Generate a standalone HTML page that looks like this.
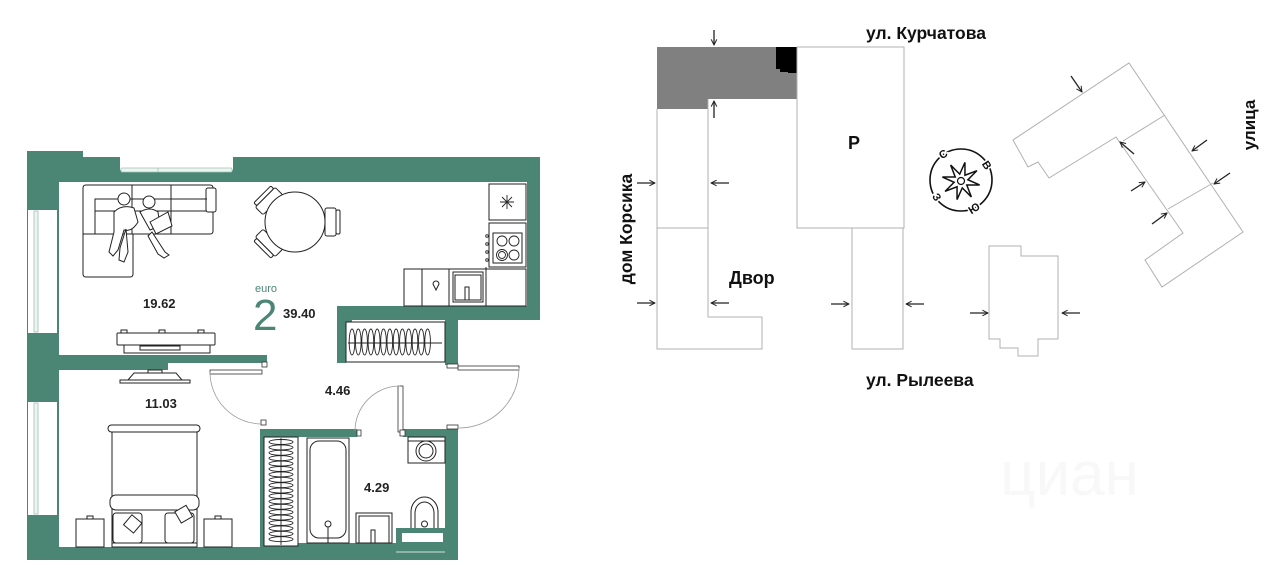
<!DOCTYPE html>
<html><head><meta charset="utf-8"><style>
html,body{margin:0;padding:0;background:#fff;width:1280px;height:570px;overflow:hidden}
svg{display:block}
text{font-family:"Liberation Sans","DejaVu Sans",sans-serif}
</style></head><body>
<svg width="1280" height="570" viewBox="0 0 1280 570" xmlns="http://www.w3.org/2000/svg">
<defs>
<marker id="ah" viewBox="0 0 10 10" refX="9" refY="5" markerWidth="7" markerHeight="7" orient="auto" markerUnits="userSpaceOnUse">
<path d="M1,1 L9,5 L1,9" fill="none" stroke="#222" stroke-width="1.4"/>
</marker>
</defs>
<rect width="1280" height="570" fill="#fff"/>

<!-- ============ FLOOR PLAN WALLS ============ -->
<g fill="#4b8674">
 <rect x="27" y="151" width="56" height="31"/>
 <rect x="83" y="157" width="457" height="25"/>
 <rect x="27" y="151" width="32" height="409"/>
 <rect x="527" y="157" width="13" height="163"/>
 <rect x="337" y="306" width="203" height="14"/>
 <rect x="337" y="306" width="9" height="57"/>
 <rect x="445" y="306" width="13" height="59"/>
 <rect x="59" y="355" width="109" height="15"/>
 <rect x="168" y="355" width="99" height="8"/>
 <rect x="260" y="429" width="97" height="8"/>
 <rect x="403" y="429" width="55" height="8"/>
 <rect x="445" y="429" width="13" height="131"/>
 <rect x="260" y="429" width="4" height="118"/>
 <rect x="27" y="547" width="431" height="13"/>
 <rect x="260" y="543" width="198" height="5"/>
 <rect x="346" y="320" width="6" height="6"/>
</g>
<!-- windows -->
<rect x="120" y="157" width="113" height="13" fill="#fff"/>
<rect x="121" y="168" width="111" height="4" fill="#eef4f1" stroke="#9fc2b5" stroke-width="0.8" rx="1"/>
<line x1="158" y1="168" x2="158" y2="172" stroke="#9fc2b5" stroke-width="0.8"/>
<rect x="28" y="210" width="29" height="123" fill="#fff"/>
<rect x="34" y="211" width="4" height="121" fill="#eef4f1" stroke="#9fc2b5" stroke-width="0.8"/>
<rect x="28" y="402" width="29" height="113" fill="#fff"/>
<rect x="34" y="403" width="4" height="111" fill="#eef4f1" stroke="#9fc2b5" stroke-width="0.8"/>
<line x1="396" y1="552" x2="445" y2="552" stroke="#cfe1da" stroke-width="1"/>

<!-- ============ FURNITURE ============ -->
<g fill="#fff" stroke="#222" stroke-width="1">
 <!-- sofa -->
 <path d="M83,188 Q83,185 86,185 H210 Q213,185 213,188 V231 Q213,234 210,234 H133 V274 Q133,277 130,277 H86 Q83,277 83,274 Z"/>
 <rect x="206" y="188" width="10" height="24" rx="2"/>
 <path d="M95,234 V199 H207 M95,211 H207 M132,185 V234 M171,185 V234 M83,234 H133" fill="none"/>
 <!-- people -->
 <circle cx="124" cy="199" r="6"/>
 <circle cx="149" cy="202" r="6"/>
 <path d="M114,212 Q122,204 134,208 L138,222 Q132,232 124,230 L118,250 L113,256 L109,252 L114,232 Z"/>
 <path d="M126,229 L128,252 L124,262 L119,260 L120,248 Z"/>
 <path d="M140,212 Q150,206 158,212 L160,226 L150,230 Z"/>
 <path d="M150,222 L168,212 L172,226 L156,234 Z"/>
 <path d="M152,232 L165,252 L169,255 L164,258 L158,254 L148,236 Z"/>
 <!-- dining chairs -->
 <g transform="translate(332,222)"><rect x="-7" y="-14" width="11" height="28" rx="2"/><rect x="4" y="-12" width="4" height="24" rx="1.5"/></g>
 <g transform="translate(268,200) rotate(225)"><rect x="-7" y="-14" width="11" height="28" rx="2"/><rect x="4" y="-12" width="4" height="24" rx="1.5"/></g>
 <g transform="translate(268,244) rotate(135)"><rect x="-7" y="-14" width="11" height="28" rx="2"/><rect x="4" y="-12" width="4" height="24" rx="1.5"/></g>
 <circle cx="295" cy="222" r="30"/>
 <!-- living TV -->
 <rect x="121" y="330" width="6" height="3"/><rect x="159" y="330" width="6" height="3"/><rect x="198" y="330" width="6" height="3"/>
 <rect x="117" y="333" width="98" height="12" rx="1"/>
 <rect x="124" y="345" width="86" height="8"/>
 <rect x="140" y="346" width="40" height="4"/>
 <!-- bedroom TV -->
 <path d="M128,380 L134,373 H176 L182,380 Z"/>
 <rect x="120" y="380" width="70" height="3"/>
 <rect x="148" y="370" width="14" height="3"/>
 <!-- bed -->
 <rect x="112" y="432" width="85" height="115"/>
 <rect x="108" y="425" width="92" height="7" rx="3.5"/>
 <rect x="110" y="495" width="89" height="15" rx="6"/>
 <rect x="113" y="513" width="29" height="30" rx="3"/>
 <rect x="165" y="513" width="29" height="30" rx="3"/>
 <rect x="126" y="517" width="13" height="13" transform="rotate(40 132 524)"/>
 <rect x="177" y="508" width="13" height="13" transform="rotate(-30 183 514)"/>
 <line x1="112" y1="543" x2="197" y2="543"/>
 <rect x="76" y="519" width="28" height="28"/>
 <rect x="87" y="516" width="6" height="3"/>
 <rect x="204" y="519" width="28" height="28"/>
 <rect x="215" y="516" width="6" height="3"/>
 <!-- kitchen -->
 <rect x="489" y="184" width="37" height="36"/>
 <rect x="489" y="223" width="37" height="44"/>
 <rect x="493" y="233" width="29" height="30"/>
 <rect x="404" y="269" width="122" height="37"/>
 <path d="M422,269 V306 M449,269 V306 M486,267 V306" fill="none"/>
 <rect x="453" y="272" width="30" height="30"/>
 <rect x="455" y="275" width="26" height="25"/>
 <rect x="465" y="287" width="4" height="13"/>
 <path d="M433,284 a3,3 0 1 1 6,0 l-3,6 z"/>
 <!-- horizontal wardrobe -->
 <rect x="346" y="322" width="99" height="40"/>
 <!-- vertical wardrobe -->
 <rect x="264" y="437" width="34" height="109"/>
 <!-- bathtub -->
 <rect x="307" y="438" width="42" height="105"/>
 <rect x="310" y="441" width="36" height="97" rx="9"/>
 <line x1="328" y1="526" x2="328" y2="543"/>
 <circle cx="328" cy="524" r="3"/>
 <!-- sink -->
 <rect x="356" y="513" width="36" height="30"/>
 <rect x="359" y="516" width="30" height="27"/>
 <rect x="371" y="530" width="4" height="13"/>
 <!-- washing machine -->
 <rect x="408" y="437" width="37" height="26"/>
 <line x1="408" y1="441" x2="445" y2="441"/>
 <circle cx="426" cy="451" r="10"/>
 <circle cx="426" cy="451" r="7"/>
 <!-- toilet -->
 <path d="M411,528 V512 A13.5,15 0 0 1 438,512 V528"/>
 <path d="M415,528 V513 A9.5,11 0 0 1 434,513 V528" fill="none"/>
 <circle cx="424.5" cy="524" r="3"/>
</g>
<rect x="396" y="528" width="49" height="15" fill="#4b8674"/>
<rect x="402" y="533" width="41" height="9" fill="#fff"/>

<!-- hanger loops -->
<g fill="none" stroke="#222" stroke-width="0.9">
 <line x1="348" y1="343" x2="442" y2="343"/>
 <ellipse cx="352" cy="342" rx="2.8" ry="13"/><ellipse cx="358.3" cy="342" rx="2.8" ry="13"/><ellipse cx="364.6" cy="342" rx="2.8" ry="13"/><ellipse cx="370.9" cy="342" rx="2.8" ry="13"/><ellipse cx="377.2" cy="342" rx="2.8" ry="13"/><ellipse cx="383.5" cy="342" rx="2.8" ry="13"/><ellipse cx="389.8" cy="342" rx="2.8" ry="13"/><ellipse cx="396.1" cy="342" rx="2.8" ry="13"/><ellipse cx="402.4" cy="342" rx="2.8" ry="13"/><ellipse cx="408.7" cy="342" rx="2.8" ry="13"/><ellipse cx="415" cy="342" rx="2.8" ry="13"/><ellipse cx="421.3" cy="342" rx="2.8" ry="13"/><ellipse cx="427.6" cy="342" rx="2.8" ry="13"/>
 <line x1="281" y1="438" x2="281" y2="545"/>
 <ellipse cx="281" cy="442" rx="12" ry="2.5"/><ellipse cx="281" cy="447.4" rx="12" ry="2.5"/><ellipse cx="281" cy="452.8" rx="12" ry="2.5"/><ellipse cx="281" cy="458.2" rx="12" ry="2.5"/><ellipse cx="281" cy="463.6" rx="12" ry="2.5"/><ellipse cx="281" cy="469" rx="12" ry="2.5"/><ellipse cx="281" cy="474.4" rx="12" ry="2.5"/><ellipse cx="281" cy="479.8" rx="12" ry="2.5"/><ellipse cx="281" cy="485.2" rx="12" ry="2.5"/><ellipse cx="281" cy="490.6" rx="12" ry="2.5"/><ellipse cx="281" cy="496" rx="12" ry="2.5"/><ellipse cx="281" cy="501.4" rx="12" ry="2.5"/><ellipse cx="281" cy="506.8" rx="12" ry="2.5"/><ellipse cx="281" cy="512.2" rx="12" ry="2.5"/><ellipse cx="281" cy="517.6" rx="12" ry="2.5"/><ellipse cx="281" cy="523" rx="12" ry="2.5"/><ellipse cx="281" cy="528.4" rx="12" ry="2.5"/><ellipse cx="281" cy="533.8" rx="12" ry="2.5"/><ellipse cx="281" cy="539.2" rx="12" ry="2.5"/>
 <!-- snowflake -->
 <path d="M507,195 V209 M500,202 H514 M502,197 L512,207 M512,197 L502,207"/>
 <!-- burners -->
 <circle cx="502" cy="241" r="5"/><circle cx="514" cy="241" r="5"/><circle cx="502" cy="255" r="5.5"/><circle cx="502" cy="255" r="3.5"/><circle cx="514" cy="255" r="5"/>
 <circle cx="487" cy="236" r="1.3"/><circle cx="487" cy="244" r="1.3"/><circle cx="487" cy="252" r="1.3"/><circle cx="487" cy="260" r="1.3"/>
</g>

<!-- doors -->
<g fill="#fff" stroke="#333" stroke-width="0.8">
 <rect x="210" y="370" width="52" height="4"/>
 <rect x="398" y="386" width="5" height="46"/>
 <rect x="458" y="366" width="61" height="4"/>
 <rect x="262" y="362" width="5" height="5"/>
 <rect x="261" y="420" width="5" height="5"/>
 <rect x="357" y="430" width="4" height="6"/>
 <rect x="400" y="430" width="5" height="6"/>
 <rect x="447" y="425" width="11" height="4"/>
 <rect x="447" y="364" width="11" height="4"/>
</g>
<g fill="none" stroke="#999" stroke-width="0.8">
 <path d="M210,372 A52,52 0 0 0 262,424"/>
 <path d="M400,386 A45,45 0 0 0 355,431"/>
 <path d="M519,368 A60,60 0 0 1 459,428"/>
</g>

<!-- labels -->
<g font-weight="bold" font-size="13" fill="#222">
 <text x="143" y="308">19.62</text>
 <text x="283" y="318">39.40</text>
 <text x="145" y="408">11.03</text>
 <text x="325" y="395">4.46</text>
 <text x="364" y="492">4.29</text>
</g>
<text x="255" y="292" font-size="11" fill="#4b8674">euro</text>
<text x="253" y="330" font-size="44" fill="#4b8674">2</text>

<!-- ============ SITE PLAN ============ -->
<polygon points="657,47 797,47 797,99 708,99 708,109 657,109" fill="#808080"/>
<polygon points="776,47 797,47 797,73 788,73 788,72 780,72 780,69 776,69" fill="#000"/>
<g fill="none" stroke="#b0b0b0" stroke-width="1">
 <path d="M657,109 V349 H762 V317 H708 V99 M657,228 H708"/>
 <rect x="797" y="47" width="107" height="181"/>
 <path d="M852,228 V349 H903 V228"/>
 <path d="M1013,140 L1028,167 L1038,162 L1049,178 L1116,137 L1183,233 L1145,260 L1162,287 L1243,232 L1129,63 Z"/>
 <path d="M1123,141 L1165,115 M1168,209 L1213,183"/>
 <path d="M989,246 H1021 V256 H1058 V339 H1038 V356 H1018 V348 H1000 V339 H989 Z"/>
</g>
<g stroke="#222" stroke-width="1.3" marker-end="url(#ah)">
 <line x1="714" y1="30" x2="714" y2="45"/>
 <line x1="714" y1="118" x2="714" y2="101"/>
 <line x1="637" y1="183" x2="655" y2="183"/>
 <line x1="729" y1="183" x2="711" y2="183"/>
 <line x1="637" y1="303" x2="655" y2="303"/>
 <line x1="729" y1="303" x2="711" y2="303"/>
 <line x1="831" y1="304" x2="849" y2="304"/>
 <line x1="924" y1="304" x2="906" y2="304"/>
 <line x1="970" y1="313" x2="988" y2="313"/>
 <line x1="1080" y1="313" x2="1062" y2="313"/>
 <line x1="1071" y1="76" x2="1082" y2="92"/>
 <line x1="1207" y1="140" x2="1192" y2="151"/>
 <line x1="1230" y1="173" x2="1214" y2="184"/>
 <line x1="1134" y1="154" x2="1120" y2="142"/>
 <line x1="1131" y1="191" x2="1145" y2="182"/>
 <line x1="1152" y1="224" x2="1167" y2="213"/>
</g>

<!-- compass -->
<circle cx="961" cy="180" r="31" fill="none" stroke="#111" stroke-width="1.6"/>
<polygon points="950.65,165.06 959.72,174.12 964.95,162.42 964.96,175.23 976.94,170.65 967.88,179.72 979.58,184.95 966.77,184.96 971.35,196.94 962.28,187.88 957.05,199.58 957.04,186.77 945.06,191.35 954.12,182.28 942.42,177.05 955.23,177.04" fill="#fff" stroke="#111" stroke-width="1.5" stroke-linejoin="miter"/>
<circle cx="961" cy="181" r="3.5" fill="none" stroke="#111" stroke-width="1.2"/>
<g font-size="11" font-weight="bold" fill="#111" stroke="#fff" stroke-width="3" paint-order="stroke" text-anchor="middle">
 <text x="943" y="158" transform="rotate(-33 943 154)">С</text>
 <text x="987" y="169" transform="rotate(57 987 165)">В</text>
 <text x="937" y="201" transform="rotate(57 937 197)">З</text>
 <text x="974" y="212" transform="rotate(-33 974 208)">Ю</text>
</g>

<g font-weight="bold" fill="#111">
 <text x="866" y="39" font-size="17.5">ул. Курчатова</text>
 <text x="866" y="386" font-size="17.5">ул. Рылеева</text>
 <text x="729" y="284" font-size="18">Двор</text>
 <text x="848" y="149" font-size="18">Р</text>
 <text transform="translate(632,229) rotate(-90)" text-anchor="middle" font-size="17.5">дом Корсика</text>
 <text transform="translate(1255,125) rotate(-90)" text-anchor="middle" font-size="17">улица</text>
</g>

<!-- faint watermark -->
<text x="1000" y="495" font-size="62" fill="#f8f8f8">циан</text>
</svg>
</body></html>
